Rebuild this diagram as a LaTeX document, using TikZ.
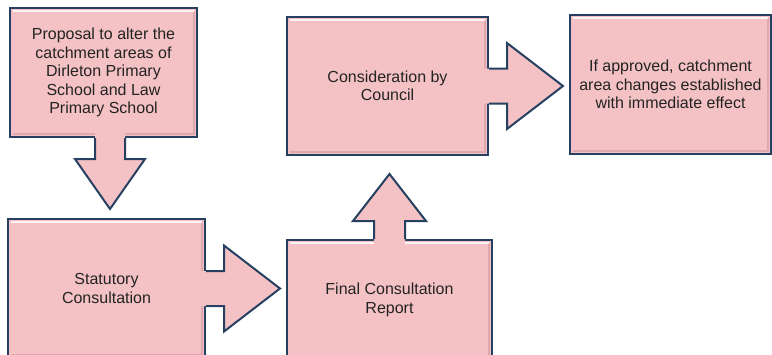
\documentclass[tikz,border=0pt]{standalone}
\usepackage{fontspec}
\setmainfont{Liberation Sans}
\definecolor{boxpink}{RGB}{244,194,196}
\definecolor{boxedge}{RGB}{38,64,98}
\definecolor{boxshade}{RGB}{222,168,172}
\definecolor{boxtext}{RGB}{35,35,35}
\tikzset{
	stage/.style 2 args={draw=boxedge,fill=boxpink,line width=2pt,minimum width=#1,minimum height=#2,inner sep=0pt,align=center,text=boxtext,font=\fontsize{16}{18.5}\selectfont},
	arrowfill/.style={fill=boxpink},
	arrowedge/.style={draw=boxedge,line width=2pt,line join=miter},
	shine/.style={draw=white,line width=2pt,opacity=.8},
	shade/.style={draw=boxshade,line width=2pt}
}

\begin{document}
\begin{tikzpicture}[x=1pt,y=-1pt]
	\useasboundingbox (0,0) rectangle (772,354);

	\node [stage={187pt}{129pt}] (proposal) at (103.5,72.5) {Proposal to alter the\\catchment areas of\\Dirleton Primary\\School and Law\\Primary School};
	\node [stage={197pt}{139pt}] (statutory) at (106.5,288.5) {Statutory\\Consultation};
	\node [stage={205pt}{120pt}] (report) at (389.5,300) {Final Consultation\\Report};
	\node [stage={201pt}{138pt}] (council) at (387.5,86) {Consideration by\\Council};
	\node [stage={201pt}{139pt}] (approved) at (670.5,84.5) {If approved, catchment\\area changes established\\with immediate effect};

	\foreach \n in {proposal,statutory,report,council,approved}{
		\draw[shade] ([shift={(4,-4)}]\n.south west) -- ([shift={(-4,-4)}]\n.south east) -- ([shift={(-4,4)}]\n.north east);
		\draw[shine] ([shift={(4,4)}]\n.north west) -- ([shift={(-4,4)}]\n.north east);
	}

	% proposal -> statutory
	\fill[arrowfill] ([shift={(-8.5,-6)}]proposal.south) -- ++(0,27) -- ++(-20,0) -- ++(35,50) -- ++(35,-50) -- ++(-20,0) -- ++(0,-27) -- cycle;
	\draw[arrowedge] ([shift={(-8.5,0)}]proposal.south) -- ++(0,21) -- ++(-20,0) -- ++(35,50) -- ++(35,-50) -- ++(-20,0) -- ++(0,-21);

	% statutory -> report
	\fill[arrowfill] ([shift={(-6,-17.5)}]statutory.east) -- ++(24,0) -- ++(0,-25.5) -- ++(56,43) -- ++(-56,43) -- ++(0,-25.5) -- ++(-24,0) -- cycle;
	\draw[arrowedge] ([shift={(0,-17.5)}]statutory.east) -- ++(18,0) -- ++(0,-25.5) -- ++(56,43) -- ++(-56,43) -- ++(0,-25.5) -- ++(-18,0);

	% report -> council
	\fill[arrowfill] ([shift={(-15.5,6)}]report.north) -- ++(0,-24) -- ++(-21,0) -- ++(36.5,-47) -- ++(36.5,47) -- ++(-21,0) -- ++(0,24) -- cycle;
	\draw[arrowedge] ([shift={(-15.5,0)}]report.north) -- ++(0,-18) -- ++(-21,0) -- ++(36.5,-47) -- ++(36.5,47) -- ++(-21,0) -- ++(0,18);

	% council -> approved
	\fill[arrowfill] ([shift={(-6,-17.5)}]council.east) -- ++(24,0) -- ++(0,-25.5) -- ++(56,43) -- ++(-56,43) -- ++(0,-25.5) -- ++(-24,0) -- cycle;
	\draw[arrowedge] ([shift={(0,-17.5)}]council.east) -- ++(18,0) -- ++(0,-25.5) -- ++(56,43) -- ++(-56,43) -- ++(0,-25.5) -- ++(-18,0);
\end{tikzpicture}
\end{document}
